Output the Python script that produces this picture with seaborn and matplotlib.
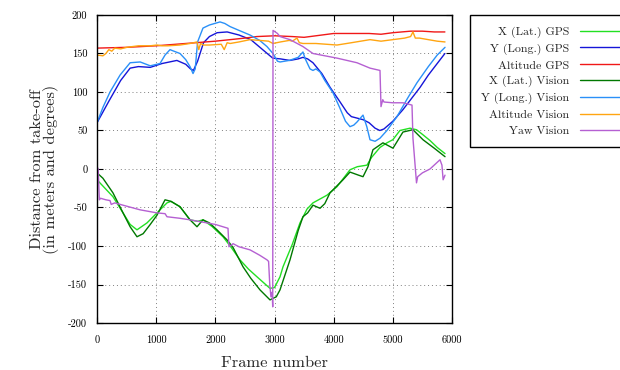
import matplotlib
matplotlib.use("Agg")
import matplotlib.pyplot as plt
import seaborn as sns
import numpy as np

# ---------------- data ----------------
xgps_f = [0, 270, 440, 560, 676, 845, 1014, 1183, 1250, 1403, 1572, 1700, 1791, 1950, 2130, 2270,
          2417, 2560, 2704, 2850, 2924, 3000, 3093, 3144, 3300, 3431, 3550, 3650, 3887, 4056, 4276,
          4400, 4563, 4640, 4783, 4900, 5000, 5120, 5290, 5400, 5500, 5628, 5750, 5882]
xgps_v = [-14, -36, -57, -72, -79, -70, -57, -44, -42, -49, -66, -68, -66, -75, -88, -102,
          -118, -130, -140, -150, -155, -154, -140, -127, -98, -70, -52, -44, -34, -23, -1,
          3, 5, 15, 28, 34, 38, 50, 53, 51, 45, 37, 28, 20]

ygps_f = [0, 200, 400, 560, 700, 900, 1100, 1350, 1500, 1580, 1630, 1700, 1800, 1900, 2030, 2200,
          2400, 2600, 2800, 2970, 3100, 3260, 3400, 3480, 3560, 3650, 3800, 3940, 4100, 4230, 4300,
          4400, 4500, 4600, 4700, 4780, 4850, 5000, 5170, 5300, 5460, 5600, 5750, 5880]
ygps_v = [60, 88, 115, 131, 133, 132, 137, 141, 136, 130, 128, 140, 164, 172, 177, 178,
          174, 168, 155, 144, 143, 141, 143, 145, 143, 138, 124, 106, 88, 73, 68,
          66, 64, 60, 53, 50, 52, 62, 77, 90, 106, 122, 137, 150]

altgps_f = [0, 500, 1000, 1500, 2000, 2500, 2700, 3000, 3300, 3500, 3800, 4000, 4300, 4600,
            4800, 5000, 5300, 5500, 5700, 5880]
altgps_v = [157, 158, 160, 163, 166, 170, 172, 173, 172, 171, 174, 176, 176, 176,
            175, 177, 179, 179, 178, 178]

xvis_f = [0, 100, 270, 440, 560, 676, 780, 900, 1014, 1150, 1250, 1403, 1572, 1690, 1791, 1900,
          2028, 2197, 2300, 2468, 2600, 2755, 2924, 2974, 3030, 3093, 3262, 3400, 3481, 3560,
          3650, 3769, 3850, 3938, 4158, 4276, 4420, 4496, 4580, 4664, 4833, 5003, 5171, 5340,
          5510, 5700, 5882]
xvis_v = [-5, -12, -31, -57, -75, -88, -84, -72, -60, -40, -42, -49, -66, -75, -66, -70,
          -79, -92, -102, -127, -142, -157, -170, -168, -166, -157, -118, -80, -62, -57,
          -47, -51, -45, -31, -14, -4, -8, -10, 3, 25, 34, 27, 48, 51,
          38, 27, 16]

yvis_f = [0, 100, 220, 390, 560, 730, 900, 1065, 1150, 1234, 1300, 1403, 1500, 1572, 1623, 1660,
          1700, 1791, 1900, 2079, 2160, 2248, 2400, 2586, 2750, 2873, 2974, 3050, 3093, 3250,
          3400, 3481, 3520, 3600, 3650, 3700, 3770, 3850, 3988, 4100, 4200, 4276, 4340, 4394,
          4450, 4496, 4560, 4614, 4700, 4783, 4900, 5070, 5250, 5408, 5600, 5750, 5882]
yvis_v = [60, 80, 100, 122, 138, 139, 134, 137, 148, 155, 153, 150, 142, 133, 124, 130,
          165, 183, 187, 191, 189, 185, 180, 174, 167, 159, 150, 140, 139, 141,
          145, 152, 143, 130, 128, 130, 126, 115, 99, 80, 62, 55, 57, 61,
          66, 70, 55, 38, 36, 40, 50, 68, 92, 112, 133, 148, 158]

altvis_f = [0, 100, 150, 200, 250, 300, 400, 500, 700, 900, 1014, 1100, 1200, 1400, 1572, 1690,
            1720, 1750, 1800, 1900, 2100, 2150, 2200, 2250, 2400, 2586, 2750, 2900, 2974, 3100,
            3250, 3300, 3380, 3420, 3481, 3700, 4056, 4300, 4614, 4800, 5000, 5200, 5300, 5340,
            5380, 5450, 5600, 5750, 5882]
altvis_v = [148, 147, 150, 155, 153, 157, 156, 158, 160, 160, 161, 160, 160, 161, 163, 165,
            155, 163, 161, 161, 162, 155, 164, 163, 165, 168, 167, 166, 163, 165,
            167, 166, 170, 164, 163, 163, 161, 164, 168, 166, 168, 170, 172, 178,
            170, 170, 168, 166, 165]

yaw_f = [0, 20, 40, 60, 150, 220, 240, 300, 440, 727, 1014, 1150, 1183, 1400, 1572, 1859, 2000,
         2214, 2230, 2300, 2400, 2586, 2750, 2873, 2900, 2920, 2940, 2960, 2970, 2975, 3050,
         3093, 3262, 3481, 3650, 4056, 4394, 4614, 4783, 4800, 4830, 4850, 5000, 5171, 5324,
         5340, 5400, 5420, 5500, 5628, 5797, 5830, 5850, 5882]
yaw_v = [3, 0, -40, -38, -40, -41, -46, -44, -47, -53, -57, -58, -62, -64, -66, -70, -72,
         -77, -101, -97, -101, -105, -112, -118, -120, -150, -166, -160, -179, 180, 176,
         172, 168, 159, 150, 144, 138, 131, 128, 81, 90, 87, 86, 86, 83,
         40, -18, -10, -5, 0, 12, 5, -14, -8]

labels = ["X (Lat.) GPS", "Y (Long.) GPS", "Altitude GPS", "X (Lat.) Vision",
          "Y (Long.) Vision", "Altitude Vision", "Yaw Vision"]
colors = ["#22e022", "#1515d8", "#f01818", "#007800", "#2a90f8", "#ffa511", "#b560d2"]

x_ticks = [0, 1000, 2000, 3000, 4000, 5000, 6000]
y_ticks = [-200, -150, -100, -50, 0, 50, 100, 150, 200]

# ---------------- style ----------------
sns.set_theme(style="ticks")
plt.rcParams["font.family"] = ["cmr10", "DejaVu Serif"]
plt.rcParams["axes.unicode_minus"] = False
plt.rcParams["axes.formatter.use_mathtext"] = False

fig = plt.figure(figsize=(6.2, 3.7), dpi=100)
ax = fig.add_axes([97 / 620, 47 / 370, 355 / 620, 308 / 370])

series = [(xgps_f, xgps_v), (ygps_f, ygps_v), (altgps_f, altgps_v), (xvis_f, xvis_v),
          (yvis_f, yvis_v), (altvis_f, altvis_v), (yaw_f, yaw_v)]
for (f, v), lab, col in zip(series, labels, colors):
    sns.lineplot(x=f, y=v, ax=ax, color=col, label=lab, linewidth=1.0,
                 estimator=None, sort=False)

ax.set_xlim(0, 6000)
ax.set_ylim(-200, 200)
ax.set_xticks(x_ticks)
ax.set_yticks(y_ticks)
ax.set_xticklabels([str(t) for t in x_ticks])
ax.set_yticklabels([str(t) for t in y_ticks])
ax.grid(True, linestyle=(0, (1, 3)), color="#808080", linewidth=0.7)
ax.tick_params(direction="in", top=True, right=True, length=4, width=0.8,
               labelsize=7.5, colors="black")
ax.tick_params(axis="y", pad=7)
ax.tick_params(axis="x", pad=9)
for s in ax.spines.values():
    s.set_color("black")
    s.set_linewidth(1.0)

ax.set_xlabel("Frame number", fontsize=11.8, labelpad=8)
ax.set_ylabel("Distance from take-off\n(in meters and degrees)", fontsize=11.8,
              labelpad=7, linespacing=0.9)

handles, labs = ax.get_legend_handles_labels()
ax.get_legend().remove()
leg = fig.legend(handles, labs, loc="upper left", bbox_to_anchor=(470 / 620, 1 - 15 / 370),
                 bbox_transform=fig.transFigure, markerfirst=False, fontsize=8.6,
                 frameon=True, fancybox=False, edgecolor="black", framealpha=1,
                 handlelength=4.6, handletextpad=0.85, labelspacing=0.45, borderpad=0.95,
                 borderaxespad=0)
leg.get_frame().set_linewidth(1.0)

fig.savefig("out.png", dpi=100)
